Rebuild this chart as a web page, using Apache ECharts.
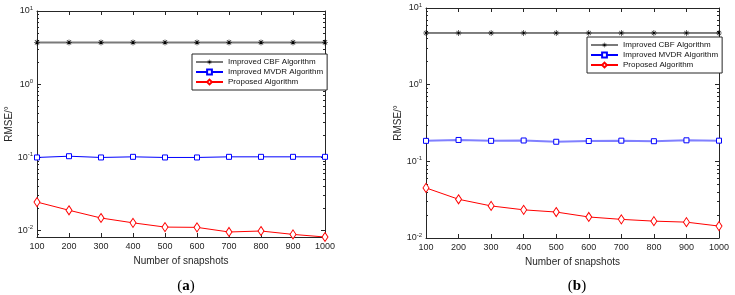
<!DOCTYPE html>
<html>
<head>
<meta charset="utf-8">
<script src="https://cdn.jsdelivr.net/npm/echarts@6/dist/echarts.min.js"></script>
<style>
  html, body { margin: 0; padding: 0; background: #fff; }
  #chart { width: 735px; height: 295px; }
</style>
</head>
<body>
<div id="chart"></div>
<script>
const snapshots = [100, 200, 300, 400, 500, 600, 700, 800, 900, 1000]
const seriesNames = ['Improved CBF Algorithm', 'Improved MVDR Algorithm', 'Proposed Algorithm']

// (a)
const cbfA = [3.72, 3.72, 3.72, 3.72, 3.72, 3.72, 3.72, 3.72, 3.72, 3.72]
const mvdrA = [0.100, 0.104, 0.100, 0.102, 0.100, 0.100, 0.102, 0.102, 0.102, 0.102]
const propA = [0.0246, 0.0190, 0.0149, 0.0128, 0.0112, 0.0111, 0.0096, 0.0099, 0.0089, 0.0082]
// (b)
const cbfB = [4.72, 4.72, 4.72, 4.72, 4.72, 4.72, 4.72, 4.72, 4.72, 4.72]
const mvdrB = [0.185, 0.190, 0.185, 0.187, 0.180, 0.184, 0.186, 0.183, 0.188, 0.186]
const propB = [0.0450, 0.0320, 0.0262, 0.0233, 0.0218, 0.0188, 0.0175, 0.0166, 0.0161, 0.0143]

const yPowers = [0.01, 0.1, 1, 10]
const axisColor = '#262626'
const font = 'Arial, "Liberation Sans", Helvetica, sans-serif'
const serif = '"Liberation Serif", "DejaVu Serif", serif'

// asterisk marker (plus + cross)
const star = 'path://M-1,-10 L1,-10 L1,10 L-1,10 Z M-10,-1 L10,-1 L10,1 L-10,1 Z ' +
  'M-6.36,-7.78 L7.78,6.36 L6.36,7.78 L-7.78,-6.36 Z M6.36,-7.78 L7.78,-6.36 L-6.36,7.78 L-7.78,6.36 Z'

function minorValues(min, max) {
  const out = []
  for (let p = -3; p <= 1; p++) {
    for (let m = 2; m <= 9; m++) {
      const v = m * Math.pow(10, p)
      if (v > min && v < max) out.push(v)
    }
  }
  return out
}

function pow10Label(v) {
  const e = Math.round(Math.log10(v))
  return '{b|10}{s|' + e + '}'
}

function yAxes(grid, min, max, nameGap) {
  const minors = minorValues(min, max)
  const base = { type: 'log', logBase: 10, gridIndex: grid, min, max, splitLine: { show: false } }
  return [
    {
      ...base, position: 'left',
      name: 'RMSE/°', nameLocation: 'middle', nameGap,
      nameTextStyle: { fontFamily: font, fontSize: 10, color: axisColor },
      axisLine: { show: true, lineStyle: { color: axisColor, width: 1 } },
      axisTick: { show: true, inside: true, length: 4, customValues: yPowers, lineStyle: { color: axisColor } },
      axisLabel: {
        customValues: yPowers, margin: 4, formatter: pow10Label,
        rich: {
          b: { fontFamily: font, fontSize: 9, color: axisColor },
          s: { fontFamily: font, fontSize: 6, color: axisColor, verticalAlign: 'top', padding: [0, 0, 6, 0] }
        }
      }
    },
    {
      ...base, position: 'left',
      axisLine: { show: false },
      axisTick: { show: true, inside: true, length: 2, customValues: minors, lineStyle: { color: axisColor } },
      axisLabel: { show: false }
    },
    {
      ...base, position: 'right',
      axisLine: { show: true, lineStyle: { color: axisColor, width: 1 } },
      axisTick: { show: true, inside: true, length: 4, customValues: yPowers, lineStyle: { color: axisColor } },
      axisLabel: { show: false }
    },
    {
      ...base, position: 'right',
      axisLine: { show: false },
      axisTick: { show: true, inside: true, length: 2, customValues: minors, lineStyle: { color: axisColor } },
      axisLabel: { show: false }
    }
  ]
}

function xAxes(grid) {
  const base = { type: 'value', gridIndex: grid, min: 100, max: 1000, interval: 100, splitLine: { show: false } }
  return [
    {
      ...base, position: 'bottom',
      name: 'Number of snapshots', nameLocation: 'middle', nameGap: 17,
      nameTextStyle: { fontFamily: font, fontSize: 10, color: axisColor },
      axisLine: { show: true, onZero: false, lineStyle: { color: axisColor, width: 1 } },
      axisTick: { show: true, inside: true, length: 4, lineStyle: { color: axisColor } },
      axisLabel: { fontFamily: font, fontSize: 9, color: axisColor, margin: 5, formatter: v => String(v) }
    },
    {
      ...base, position: 'top',
      axisLine: { show: true, onZero: false, lineStyle: { color: axisColor, width: 1 } },
      axisTick: { show: true, inside: true, length: 4, lineStyle: { color: axisColor } },
      axisLabel: { show: false }
    }
  ]
}

function pts(vals) {
  return snapshots.map((x, i) => [x, vals[i]])
}

function lineSeries(name, vals, grid, opts) {
  return {
    name, type: 'line', data: pts(vals),
    xAxisIndex: grid * 2, yAxisIndex: grid * 4,
    symbol: opts.symbol, symbolSize: opts.size,
    lineStyle: { color: opts.line, width: opts.width },
    itemStyle: { color: opts.fill, borderColor: opts.mark, borderWidth: opts.border },
    emphasis: { disabled: true },
    animation: false
  }
}

function legend(left, top) {
  return {
    data: seriesNames, orient: 'vertical', left, top,
    backgroundColor: '#fff', borderColor: axisColor, borderWidth: 1, borderRadius: 0,
    padding: [4, 4, 4, 3], itemGap: 2, itemWidth: 27, itemHeight: 6,
    selectedMode: false,
    textStyle: { fontFamily: font, fontSize: 8, color: '#111' }
  }
}

function caption(letter, x) {
  return {
    text: '{p|(}{l|' + letter + '}{p|)}', left: x, top: 274, textAlign: 'center',
    textStyle: {
      rich: {
        p: { fontFamily: serif, fontSize: 15, fontWeight: 'normal', color: '#000' },
        l: { fontFamily: serif, fontSize: 15, fontWeight: 'bold', color: '#000' }
      }
    }
  }
}

const chart = echarts.init(document.getElementById('chart'))
chart.setOption({
  backgroundColor: '#fff',
  animation: false,
  grid: [
    { left: 37, top: 11, width: 288, height: 226 },
    { left: 426, top: 8, width: 293, height: 230 }
  ],
  xAxis: [...xAxes(0), ...xAxes(1)],
  yAxis: [...yAxes(0, 0.0082, 10, 21), ...yAxes(1, 0.01, 10, 18)],
  legend: [legend(192, 54), legend(587, 37)],
  title: [caption('a', 181), caption('b', 572)],
  series: [
    lineSeries(seriesNames[0], cbfA, 0, { symbol: star, size: 6, line: '#7a7a7a', width: 2, fill: '#000', mark: '#000', border: 0 }),
    lineSeries(seriesNames[1], mvdrA, 0, { symbol: 'rect', size: 5, line: '#0000ff', width: 1, fill: '#fff', mark: '#0000ff', border: 1 }),
    lineSeries(seriesNames[2], propA, 0, { symbol: 'diamond', size: [6, 9], line: '#ff0000', width: 1, fill: '#fff', mark: '#ff0000', border: 1 }),
    lineSeries(seriesNames[0], cbfB, 1, { symbol: star, size: 6, line: '#000', width: 1, fill: '#000', mark: '#000', border: 0 }),
    lineSeries(seriesNames[1], mvdrB, 1, { symbol: 'rect', size: 5, line: '#8080ff', width: 2, fill: '#fff', mark: '#0000ff', border: 1 }),
    lineSeries(seriesNames[2], propB, 1, { symbol: 'diamond', size: [6, 9], line: '#ff0000', width: 1, fill: '#fff', mark: '#ff0000', border: 1 })
  ]
})
</script>
</body>
</html>
